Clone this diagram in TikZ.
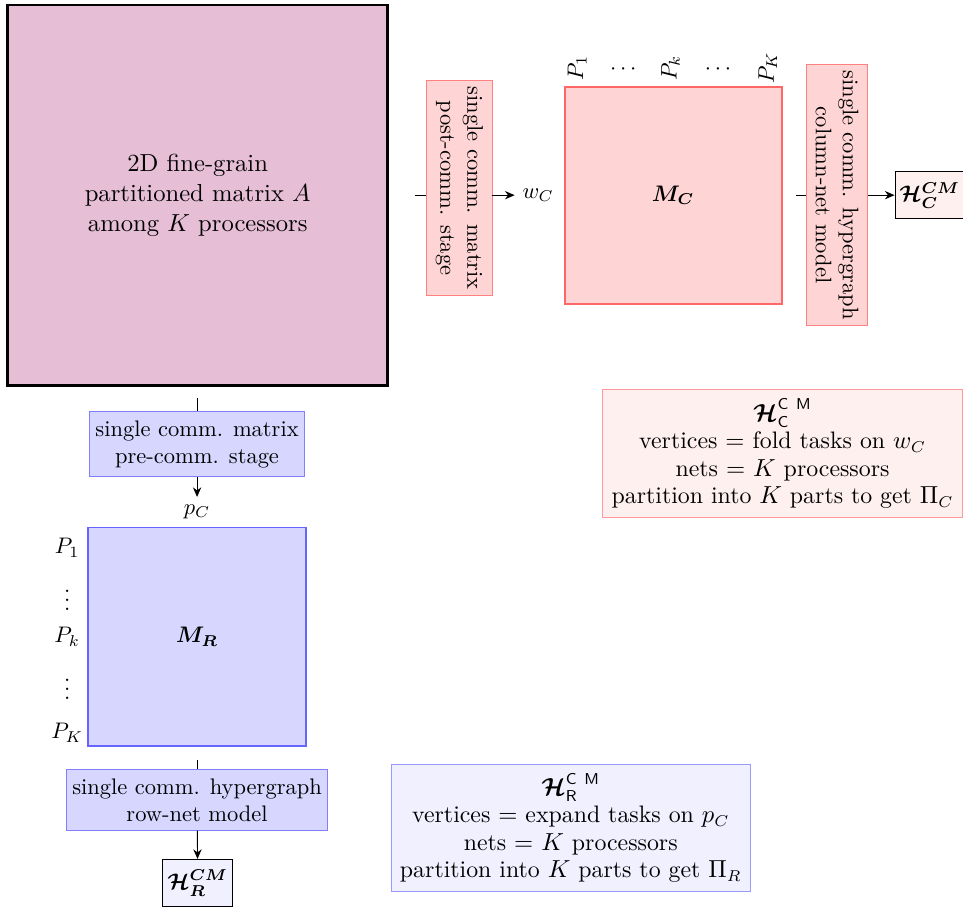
\documentclass[tikz,border=0pt]{standalone}
\usepackage{amsmath, amssymb}
\usepackage{tikz}
\usetikzlibrary{arrows.meta, positioning}

\definecolor{matA}{RGB}{230,190,214}

\begin{document}
\begin{tikzpicture}[
  mat/.style={draw, minimum size=#1, inner sep=0pt},
  stagebox/.style={draw, align=center, inner xsep=2.5pt, inner ysep=4pt},
  hbox/.style={draw, inner sep=2pt, minimum height=0.74cm},
  info/.style={draw, align=center, inner sep=4pt,
    font=\fontsize{10.6pt}{12.2pt}\selectfont},
  lab/.style={inner sep=1pt},
  e/.style={-{Stealth[length=1.5mm, width=1.3mm]}},
  scale=1.0]
  \useasboundingbox (0,0) rectangle (15.05,-14.19);
  % the partitioned matrix
  \node[mat=5.94cm, very thick, fill=matA, align=center,
    font=\fontsize{10.95pt}{13.4pt}\selectfont] (A) at (3.09,-3.05)
    {2D fine-grain\\partitioned matrix $A$\\among $K$ processors};

  % column side
  \coordinate (c1) at (6.48,-3.05);
  \node[stagebox, rotate=-90, fill=red!17, draw=red!50] (post) at (7.18,-2.94)
    {single comm. matrix\\post-comm. stage};
  \node (wC) at (8.41,-3.05) {$w_C$};
  \draw (c1) -- (c1 -| post.south);
  \draw[e] (c1 -| post.north) -- (wC);
  \node[mat=3.39cm, thick, fill=red!17, draw=red!60] (MC) at (10.52,-3.05)
    {$\boldsymbol{M_C}$};
  \node[lab, rotate=90] (P1) at (9.02,-1.06) {$P_1$};
  \node[lab] (d1) at (9.77,-1.09) {$\cdots$};
  \node[lab, rotate=90] (Pk) at (10.48,-1.06) {$P_k$};
  \node[lab] (d2) at (11.25,-1.09) {$\cdots$};
  \node[lab, rotate=90] (PK) at (12.0,-1.06) {$P_K$};
  \coordinate (c2) at (12.44,-3.05);
  \node[stagebox, rotate=-90, fill=red!17, draw=red!50] (col) at (13.08,-3.05)
    {single comm. hypergraph\\column-net model};
  \node[hbox, fill=red!6] (HC) at (14.53,-3.05)
    {$\boldsymbol{\mathcal{H}_C^{CM}}$};
  \draw (c2) -- (col.south);
  \draw[e] (col.north) -- (HC);
  \node[info, fill=red!6, draw=red!40] (iC) at (12.23,-7.09)
    {$\boldsymbol{\mathcal{H}}_{\mathsf{C}}^{\mathsf{C\ M}}$\\
     vertices $=$ fold tasks on $w_C$\\
     nets $=$ $K$ processors\\
     partition into $K$ parts to get $\Pi_C$};

  % row side
  \coordinate (c3) at (3.08,-6.22);
  \node[stagebox, fill=blue!16, draw=blue!50] (pre) at (3.08,-6.94)
    {single comm. matrix\\pre-comm. stage};
  \node (pC) at (3.08,-8.0) {$p_C$};
  \draw (c3) -- (pre);
  \draw[e] (pre) -- (pC);
  \node[mat=3.41cm, thick, fill=blue!16, draw=blue!60] (MR) at (3.08,-9.95)
    {$\boldsymbol{M_R}$};
  \node[lab] (Q1) at (1.05,-8.56) {$P_1$};
  \node[inner sep=0pt] (v1) at (1.05,-9.27) {$\vdots$};
  \node[lab] (Qk) at (1.05,-9.95) {$P_k$};
  \node[inner sep=0pt] (v2) at (1.05,-10.67) {$\vdots$};
  \node[lab] (QK) at (1.05,-11.45) {$P_K$};
  \coordinate (c4) at (3.08,-11.88);
  \node[stagebox, fill=blue!16, draw=blue!50] (row) at (3.08,-12.5)
    {single comm. hypergraph\\row-net model};
  \node[hbox, fill=blue!6] (HR) at (3.09,-13.80)
    {$\boldsymbol{\mathcal{H}_R^{CM}}$};
  \draw (c4) -- (row);
  \draw[e] (row) -- (HR);
  \node[info, fill=blue!6, draw=blue!40] (iR) at (8.92,-12.94)
    {$\boldsymbol{\mathcal{H}}_{\mathsf{R}}^{\mathsf{C\ M}}$\\
     vertices $=$ expand tasks on $p_C$\\
     nets $=$ $K$ processors\\
     partition into $K$ parts to get $\Pi_R$};
\end{tikzpicture}
\end{document}
